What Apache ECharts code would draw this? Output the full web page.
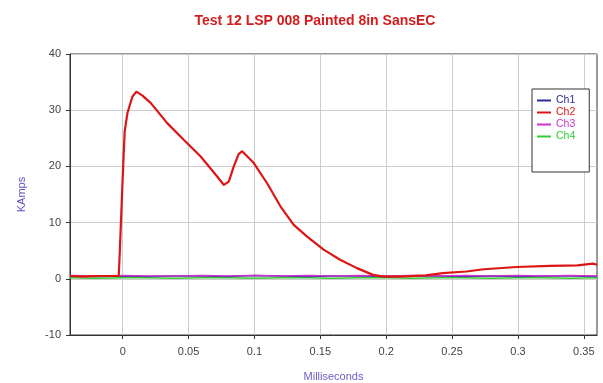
<!DOCTYPE html>
<html>
<head>
<meta charset="utf-8">
<script src="https://cdn.jsdelivr.net/npm/echarts@6/dist/echarts.min.js"></script>
<style>html,body{margin:0;padding:0;background:#fff;}#c{width:603px;height:383px;}</style>
</head>
<body>
<div id="c"></div>
<script>
var titleText = "Test 12 LSP 008 Painted 8in SansEC";
var xTicks = [0, 0.05, 0.1, 0.15, 0.2, 0.25, 0.3, 0.35];
var yTicks = [-10, 0, 10, 20, 30, 40];
var seriesNames = ["Ch1", "Ch2", "Ch3", "Ch4"];

var ch2Time = [-0.04, -0.03, -0.02, -0.01, -0.003, -0.002, 0.0, 0.0015, 0.0036, 0.0073, 0.0104, 0.015, 0.0212, 0.0338, 0.0465, 0.059, 0.0717, 0.0768, 0.0805, 0.0843, 0.088, 0.0907, 0.0919, 0.0995, 0.1096, 0.1197, 0.1298, 0.14, 0.1525, 0.165, 0.1778, 0.19, 0.198, 0.21, 0.23, 0.243, 0.261, 0.274, 0.299, 0.324, 0.345, 0.357, 0.36];
var ch2Values = [0.5, 0.4, 0.5, 0.5, 0.5, 6, 18, 26.2, 29.5, 32.4, 33.3, 32.6, 31.3, 27.7, 24.7, 21.8, 18.2, 16.7, 17.3, 20.0, 22.2, 22.7, 22.4, 20.6, 17.0, 12.9, 9.6, 7.5, 5.2, 3.4, 1.9, 0.7, 0.4, 0.4, 0.6, 1.0, 1.3, 1.7, 2.1, 2.3, 2.4, 2.7, 2.5];

var baseTime = [-0.04, -0.02, 0.0, 0.02, 0.04, 0.06, 0.08, 0.1, 0.12, 0.14, 0.16, 0.18, 0.2, 0.22, 0.24, 0.26, 0.28, 0.3, 0.32, 0.34, 0.36];
var ch1Values = [0.5, 0.4, 0.5, 0.4, 0.5, 0.5, 0.4, 0.6, 0.5, 0.4, 0.5, 0.5, 0.4, 0.5, 0.5, 0.4, 0.5, 0.4, 0.5, 0.5, 0.4];
var ch3Values = [0.6, 0.5, 0.6, 0.5, 0.5, 0.6, 0.5, 0.6, 0.5, 0.6, 0.5, 0.6, 0.5, 0.6, 0.5, 0.6, 0.5, 0.6, 0.5, 0.6, 0.5];
var ch4Values = [0.2, 0.1, 0.2, 0.2, 0.1, 0.2, 0.2, 0.1, 0.2, 0.2, 0.1, 0.2, 0.2, 0.1, 0.2, 0.2, 0.1, 0.2, 0.2, 0.1, 0.2];

var colors = ["#2b2ba0", "#dd1515", "#cc33cc", "#33cc33"];

function pairs(xs, ys) { return xs.map(function (x, i) { return [x, ys[i]]; }); }

var chart = echarts.init(document.getElementById('c'), null, {renderer: 'canvas'});
chart.setOption({
  animation: false,
  backgroundColor: '#ffffff',
  title: {
    text: titleText, left: 310, top: 9, textAlign: 'center',
    textStyle: {color: '#d41c1c', fontSize: 14, fontWeight: 'bold', fontFamily: 'Liberation Sans'}
  },
  grid: {left: 70, right: 6, top: 54, bottom: 48, show: true, borderColor: '#333', borderWidth: 1, containLabel: false, outerBoundsMode: 'none'},
  legend: {
    orient: 'vertical', left: 532, top: 89,
    padding: [6, 14, 30, 5], itemGap: 1,
    itemWidth: 14, itemHeight: 10,
    backgroundColor: '#fff', borderColor: '#333', borderWidth: 1,
    icon: 'path://M0,4h14v2h-14z',
    data: seriesNames.map(function (n, i) {
      return {name: n, textStyle: {color: colors[i]}};
    }),
    textStyle: {fontSize: 10.5, fontFamily: 'Liberation Sans'}
  },
  xAxis: {
    type: 'value', min: -0.04, max: 0.36,
    name: 'Milliseconds', nameLocation: 'middle', nameGap: 36,
    nameTextStyle: {color: '#6a5fc8', fontSize: 11, fontFamily: 'Liberation Sans'},
    axisLine: {onZero: false, lineStyle: {color: '#333'}},
    axisTick: {show: true, length: 4, customValues: xTicks, lineStyle: {color: '#333'}},
    axisLabel: {customValues: xTicks, color: '#444', fontSize: 11, margin: 11, fontFamily: 'Liberation Sans'},
    splitLine: {show: true, lineStyle: {color: '#cccccc', width: 1}}
  },
  yAxis: {
    type: 'value', min: -10, max: 40, interval: 10,
    name: 'KAmps', nameLocation: 'middle', nameGap: 43,
    nameTextStyle: {color: '#5a4fc0', fontSize: 11, fontFamily: 'Liberation Sans'},
    axisLine: {show: true, onZero: false, lineStyle: {color: '#333'}},
    axisTick: {show: true, length: 4, lineStyle: {color: '#333'}},
    axisLabel: {color: '#444', fontSize: 11, margin: 9, fontFamily: 'Liberation Sans'},
    splitLine: {show: true, lineStyle: {color: '#cccccc', width: 1}}
  },
  series: [
    {name: 'Ch1', type: 'line', data: pairs(baseTime, ch1Values), showSymbol: false, lineStyle: {color: colors[0], width: 1.5}, itemStyle: {color: colors[0]}, z: 3},
    {name: 'Ch2', type: 'line', data: pairs(ch2Time, ch2Values), showSymbol: false, lineStyle: {color: colors[1], width: 2.2}, itemStyle: {color: colors[1]}, z: 4},
    {name: 'Ch3', type: 'line', data: pairs(baseTime, ch3Values), showSymbol: false, lineStyle: {color: colors[2], width: 1.5}, itemStyle: {color: colors[2]}, z: 3},
    {name: 'Ch4', type: 'line', data: pairs(baseTime, ch4Values), showSymbol: false, lineStyle: {color: colors[3], width: 1.5}, itemStyle: {color: colors[3]}, z: 2}
  ]
});
</script>
</body>
</html>
